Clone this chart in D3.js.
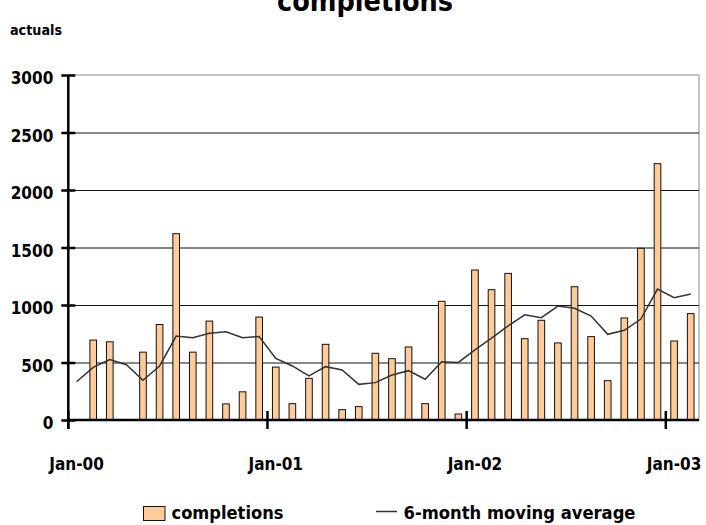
<!DOCTYPE html>
<html>
<head>
<meta charset="utf-8">
<script src="https://cdn.jsdelivr.net/npm/d3@7"></script>
<style>
  body { margin: 0; background: #fff; }
  svg text { font-family: "DejaVu Sans Condensed", "DejaVu Sans", sans-serif; font-stretch: condensed; font-weight: bold; fill: #000; }
</style>
</head>
<body>
<div id="chart"></div>
<script>
// monthly categories Jan-00 .. Feb-03
const months = [
  "Jan-00","Feb-00","Mar-00","Apr-00","May-00","Jun-00","Jul-00","Aug-00","Sep-00","Oct-00","Nov-00","Dec-00",
  "Jan-01","Feb-01","Mar-01","Apr-01","May-01","Jun-01","Jul-01","Aug-01","Sep-01","Oct-01","Nov-01","Dec-01",
  "Jan-02","Feb-02","Mar-02","Apr-02","May-02","Jun-02","Jul-02","Aug-02","Sep-02","Oct-02","Nov-02","Dec-02",
  "Jan-03","Feb-03"
];
const completions = [
  0, 695, 680, 0, 590, 830, 1620, 590, 860, 140, 245, 895,
  460, 142, 362, 658, 90, 116, 580, 533, 635, 142, 1032, 52,
  1304, 1133, 1275, 707, 867, 670, 1159, 725, 342, 887, 1493, 2229,
  687, 925
];
const movingAvg = [
  333, 458, 525, 481, 345, 470, 730, 716, 754, 768, 716, 725,
  536, 470, 383, 464, 435, 310, 325, 391, 429, 354, 507, 501,
  610, 712, 818, 915, 890, 991, 971, 904, 745, 780, 878, 1139,
  1064, 1096
];
const yTicks = [0, 500, 1000, 1500, 2000, 2500, 3000];
const xTickLabels = ["Jan-00", "Jan-01", "Jan-02", "Jan-03"];

const W = 706, H = 525;
const margin = {top: 75, right: 7, bottom: 105, left: 68.3},
      width = W - margin.left - margin.right,
      height = H - margin.top - margin.bottom;

const root = d3.select("#chart").append("svg")
    .attr("width", W)
    .attr("height", H);

// title (cut off at the top, as in the original) and unit label
root.append("text")
    .attr("x", 365).attr("y", 10.5)
    .attr("text-anchor", "middle")
    .attr("font-size", 29)
    .attr("textLength", 176).attr("lengthAdjust", "spacingAndGlyphs")
    .text("completions");

root.append("text")
    .attr("x", 10).attr("y", 35)
    .attr("font-size", 14)
    .attr("textLength", 52).attr("lengthAdjust", "spacingAndGlyphs")
    .text("actuals");

const svg = root.append("g")
    .attr("transform", `translate(${margin.left},${margin.top})`);

const x = d3.scaleBand()
    .domain(months)
    .range([0, width])
    .paddingInner(0.6)
    .paddingOuter(0.3);
const step = x.step();
const center = m => x(m) + x.bandwidth() / 2;

const y = d3.scaleLinear()
    .domain([0, 3000])
    .range([height, 0]);

// plot area border (grey)
svg.append("rect")
    .attr("x", 0).attr("y", 0)
    .attr("width", width).attr("height", height)
    .attr("fill", "none")
    .attr("stroke", "#8c8c8c");

// gridlines
svg.append("g")
    .attr("class", "grid")
    .call(d3.axisLeft(y).tickValues(yTicks.slice(1, -1)).tickSize(-width).tickFormat(""))
    .call(g => g.select(".domain").remove())
    .call(g => g.selectAll("line").attr("stroke", "#111").attr("stroke-width", 1));

// bars
svg.selectAll("rect.bar")
    .data(completions)
    .enter()
    .append("rect")
    .attr("class", "bar")
    .attr("x", (d, i) => x(months[i]))
    .attr("y", d => y(d))
    .attr("width", x.bandwidth())
    .attr("height", d => y(0) - y(d))
    .attr("fill", "#FFCC99")
    .attr("stroke", "#111")
    .attr("stroke-width", 1);

// moving average line
const line = d3.line()
    .x((d, i) => center(months[i]))
    .y(d => y(d));
svg.append("path")
    .datum(movingAvg)
    .attr("d", line)
    .attr("fill", "none")
    .attr("stroke", "#333")
    .attr("stroke-width", 1.5);

// y axis with crossing ticks
const yAxis = svg.append("g")
    .call(d3.axisLeft(y).tickValues(yTicks).tickFormat(d3.format("d")).tickSize(0).tickPadding(15));
yAxis.select(".domain").remove();
yAxis.selectAll("text")
    .attr("font-size", 17)
    .attr("dy", "0.5em");
yAxis.selectAll(".tick")
    .append("line")
    .attr("x1", -7).attr("x2", 7)
    .attr("stroke", "#000").attr("stroke-width", 2.5);
svg.append("line")
    .attr("x1", 0).attr("x2", 0)
    .attr("y1", 0).attr("y2", height + 9)
    .attr("stroke", "#000").attr("stroke-width", 2.5);

// x axis: ticks on year boundaries, labels on January
svg.append("line")
    .attr("x1", 0).attr("x2", width)
    .attr("y1", height).attr("y2", height)
    .attr("stroke", "#000").attr("stroke-width", 2.5);

const xg = svg.append("g").attr("transform", `translate(0,${height})`);
xg.selectAll("line.xtick")
    .data(xTickLabels)
    .enter()
    .append("line")
    .attr("class", "xtick")
    .attr("x1", d => center(d) - step / 2)
    .attr("x2", d => center(d) - step / 2)
    .attr("y1", -9).attr("y2", 9)
    .attr("stroke", "#000").attr("stroke-width", 2.5);
xg.selectAll("text")
    .data(xTickLabels)
    .enter()
    .append("text")
    .attr("x", d => center(d))
    .attr("y", 49.5)
    .attr("text-anchor", "middle")
    .attr("font-size", 17)
    .text(d => d);

// legend
const legend = root.append("g");
legend.append("rect")
    .attr("x", 143.5).attr("y", 506.5)
    .attr("width", 21.5).attr("height", 14)
    .attr("fill", "#FFCC99")
    .attr("stroke", "#111");
legend.append("text")
    .attr("x", 171.5).attr("y", 519)
    .attr("font-size", 18)
    .attr("textLength", 112).attr("lengthAdjust", "spacingAndGlyphs")
    .text("completions");
legend.append("line")
    .attr("x1", 376).attr("x2", 397)
    .attr("y1", 511.5).attr("y2", 511.5)
    .attr("stroke", "#333").attr("stroke-width", 1.5);
legend.append("text")
    .attr("x", 403.5).attr("y", 519)
    .attr("font-size", 18)
    .attr("textLength", 232).attr("lengthAdjust", "spacingAndGlyphs")
    .text("6-month moving average");
</script>
</body>
</html>
